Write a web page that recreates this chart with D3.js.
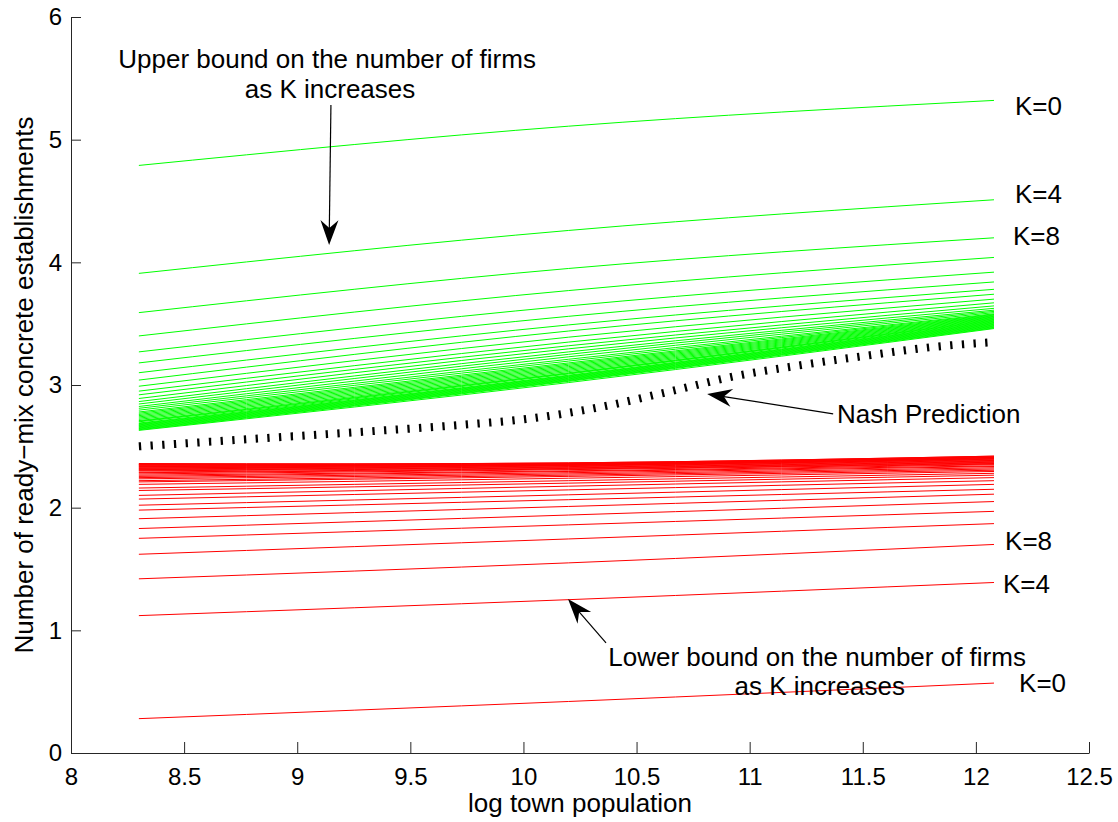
<!DOCTYPE html>
<html>
  <head>
    <meta charset="utf-8">
    <script src="https://d3js.org/d3.v7.min.js"></script>
    <style>
      body { margin: 0; background: #fff; }
      text { font-family: "Liberation Sans", Arial, Helvetica, sans-serif; fill: #000; }
      .axis path, .axis line { stroke: #262626; stroke-width: 1; }
      .axis text { font-size: 24px; }
      .note { font-size: 26px; }
    </style>
  </head>
  <body>
    <script type="text/javascript">
      var xKnots = [8.3, 10.2, 12.08];

      // upper bound lines, K = 0, 4, 8, ... (value at each of the three knots)
      var upperStart = [4.79, 3.91, 3.59, 3.40, 3.27, 3.18, 3.10, 3.04, 2.99, 2.95,
                        2.92, 2.89, 2.865, 2.845, 2.825, 2.81, 2.795, 2.78, 2.77, 2.76,
                        2.75, 2.74, 2.73, 2.72, 2.71, 2.705, 2.70, 2.69, 2.685, 2.68,
                        2.675, 2.67, 2.665, 2.66, 2.655, 2.65, 2.645, 2.64, 2.635, 2.63];
      var upperMid   = [5.11, 4.26, 3.95, 3.77, 3.645, 3.56, 3.49, 3.44, 3.39, 3.35,
                        3.32, 3.295, 3.27, 3.25, 3.23, 3.21, 3.195, 3.18, 3.17, 3.16,
                        3.15, 3.14, 3.13, 3.12, 3.11, 3.10, 3.095, 3.09, 3.08, 3.075,
                        3.07, 3.065, 3.06, 3.055, 3.05, 3.045, 3.04, 3.035, 3.03, 3.02];
      var upperEnd   = [5.32, 4.51, 4.20, 4.04, 3.92, 3.84, 3.78, 3.74, 3.70, 3.67,
                        3.645, 3.625, 3.61, 3.60, 3.59, 3.58, 3.575, 3.57, 3.565, 3.56,
                        3.555, 3.55, 3.545, 3.54, 3.535, 3.53, 3.525, 3.52, 3.515, 3.51,
                        3.505, 3.50, 3.495, 3.49, 3.485, 3.48, 3.475, 3.47, 3.465, 3.46];

      // lower bound lines, K = 0, 4, 8, ...
      var lowerStart = [0.28, 1.12, 1.42, 1.62, 1.75, 1.83, 1.91, 1.98, 2.02, 2.07,
                        2.10, 2.14, 2.16, 2.19, 2.21, 2.22, 2.235, 2.245, 2.255, 2.265,
                        2.275, 2.285, 2.29, 2.30, 2.305, 2.31, 2.315, 2.32, 2.325, 2.33,
                        2.335, 2.34, 2.345, 2.35, 2.35, 2.355, 2.36];
      var lowerMid   = [0.42, 1.25, 1.55, 1.745, 1.86, 1.94, 2.01, 2.065, 2.105, 2.145,
                        2.175, 2.20, 2.22, 2.24, 2.255, 2.265, 2.275, 2.285, 2.295, 2.30,
                        2.31, 2.315, 2.32, 2.325, 2.33, 2.335, 2.34, 2.345, 2.345, 2.35,
                        2.35, 2.355, 2.355, 2.36, 2.36, 2.365, 2.365];
      var lowerEnd   = [0.57, 1.39, 1.70, 1.87, 1.97, 2.05, 2.11, 2.15, 2.19, 2.22,
                        2.245, 2.265, 2.28, 2.295, 2.305, 2.315, 2.325, 2.335, 2.34, 2.35,
                        2.355, 2.36, 2.365, 2.37, 2.375, 2.38, 2.385, 2.39, 2.395, 2.40,
                        2.40, 2.405, 2.41, 2.41, 2.415, 2.42, 2.42];

      // Nash prediction
      var nashX = [8.3, 8.8, 9.3, 9.76, 10.0, 10.34, 10.63, 10.93, 11.22, 11.52, 11.81, 12.08];
      var nashY = [2.50, 2.56, 2.62, 2.68, 2.72, 2.82, 2.94, 3.07, 3.16, 3.24, 3.31, 3.35];

      var xTicks = [8, 8.5, 9, 9.5, 10, 10.5, 11, 11.5, 12, 12.5];
      var yTicks = [0, 1, 2, 3, 4, 5, 6];

      // K labels at the right end of the lines
      var kLabels = [
        {text: "K=0", x: 12.173, y: 5.201},
        {text: "K=4", x: 12.173, y: 4.484},
        {text: "K=8", x: 12.164, y: 4.141},
        {text: "K=8", x: 12.129, y: 1.655},
        {text: "K=4", x: 12.120, y: 1.304},
        {text: "K=0", x: 12.191, y: 0.497}
      ];

      // text annotations (x is centre or start, y is baseline)
      var notes = [
        {text: "Upper bound on the number of firms", x: 9.132, y: 5.584, anchor: "middle"},
        {text: "as K increases", x: 9.145, y: 5.340, anchor: "middle"},
        {text: "Nash Prediction", x: 11.386, y: 2.690, anchor: "start"},
        {text: "Lower bound on the number of firms", x: 11.298, y: 0.709, anchor: "middle"},
        {text: "as K increases", x: 11.31, y: 0.473, anchor: "middle"}
      ];

      // arrows: tail -> tip
      var arrows = [
        {x1: 9.149, y1: 5.283, x2: 9.141, y2: 4.141},
        {x1: 11.369, y1: 2.764, x2: 10.812, y2: 2.927},
        {x1: 10.365, y1: 0.897, x2: 10.197, y2: 1.255}
      ];

      var margin = {top: 17, right: 29, bottom: 69, left: 71},
          width = 1118 - margin.left - margin.right,
          height = 822 - margin.top - margin.bottom;

      var svg = d3.select("body")
        .append("svg")
          .attr("width", 1118)
          .attr("height", 822)
        .append("g")
          .attr("transform", "translate(" + margin.left + "," + margin.top + ")");

      var x = d3.scaleLinear().domain([8, 12.5]).range([0, width]);
      var y = d3.scaleLinear().domain([0, 6]).range([height, 0]);

      // axes, ticks pointing inwards like matlab
      svg.append("g")
          .attr("class", "axis")
          .attr("transform", "translate(0," + height + ")")
          .call(d3.axisBottom(x).tickValues(xTicks).tickFormat(d3.format("")).tickSizeInner(-11).tickSizeOuter(0).tickPadding(15));

      svg.append("g")
          .attr("class", "axis")
          .call(d3.axisLeft(y).tickValues(yTicks).tickFormat(d3.format("d")).tickSizeInner(-10).tickSizeOuter(0).tickPadding(9));

      svg.selectAll(".axis .domain").attr("fill", "none");

      svg.append("text")
          .attr("class", "note")
          .attr("x", x(10.25))
          .attr("y", 795)
          .attr("text-anchor", "middle")
          .text("log town population");

      svg.append("text")
          .attr("class", "note")
          .attr("transform", "translate(" + (33 - margin.left) + "," + (385 - margin.top) + ") rotate(-90)")
          .attr("text-anchor", "middle")
          .text("Number of ready\u2212mix concrete establishments");

      var line = d3.line()
          .x(function (d) { return x(d[0]); })
          .y(function (d) { return y(d[1]); })
          .curve(d3.curveNatural);

      function boundLines(starts, mids, ends) {
        return starts.map(function (s, i) {
          return [[xKnots[0], s], [xKnots[1], mids[i]], [xKnots[2], ends[i]]];
        });
      }

      svg.append("g").selectAll("path")
          .data(boundLines(upperStart, upperMid, upperEnd))
          .enter().append("path")
          .attr("d", line)
          .attr("fill", "none")
          .attr("stroke", "#00ff00")
          .attr("stroke-width", 1);

      svg.append("g").selectAll("path")
          .data(boundLines(lowerStart, lowerMid, lowerEnd))
          .enter().append("path")
          .attr("d", line)
          .attr("fill", "none")
          .attr("stroke", "#ff0000")
          .attr("stroke-width", 1);

      // thick dotted line -> short bars across the curve
      var nashLine = d3.line()
          .x(function (d) { return x(d[0]); })
          .y(function (d) { return y(d[1]); })
          .curve(d3.curveMonotoneX);

      svg.append("path")
          .attr("d", nashLine(nashX.map(function (d, i) { return [d, nashY[i]]; })))
          .attr("fill", "none")
          .attr("stroke", "#000")
          .attr("stroke-width", 8)
          .attr("stroke-dasharray", "2.3,9.4");

      svg.append("g").selectAll("text")
          .data(kLabels)
          .enter().append("text")
          .attr("class", "note")
          .attr("x", function (d) { return x(d.x); })
          .attr("y", function (d) { return y(d.y); })
          .text(function (d) { return d.text; });

      svg.append("g").selectAll("text")
          .data(notes)
          .enter().append("text")
          .attr("class", "note")
          .attr("x", function (d) { return x(d.x); })
          .attr("y", function (d) { return y(d.y); })
          .attr("text-anchor", function (d) { return d.anchor; })
          .text(function (d) { return d.text; });

      // arrows with a notched filled head
      var arrowG = svg.append("g");
      arrows.forEach(function (a) {
        var x1 = x(a.x1), y1 = y(a.y1), x2 = x(a.x2), y2 = y(a.y2);
        var len = Math.sqrt((x1 - x2) * (x1 - x2) + (y1 - y2) * (y1 - y2));
        var ux = (x1 - x2) / len, uy = (y1 - y2) / len;
        var nx = -uy, ny = ux;
        var L = 25, W = 9, N = 17;
        arrowG.append("line")
            .attr("x1", x1).attr("y1", y1)
            .attr("x2", x2 + ux * N).attr("y2", y2 + uy * N)
            .attr("stroke", "#000")
            .attr("stroke-width", 1.2);
        arrowG.append("path")
            .attr("d", "M" + x2 + "," + y2 +
                       "L" + (x2 + ux * L + nx * W) + "," + (y2 + uy * L + ny * W) +
                       "L" + (x2 + ux * N) + "," + (y2 + uy * N) +
                       "L" + (x2 + ux * L - nx * W) + "," + (y2 + uy * L - ny * W) + "Z")
            .attr("fill", "#000");
      });
    </script>
  </body>
</html>
